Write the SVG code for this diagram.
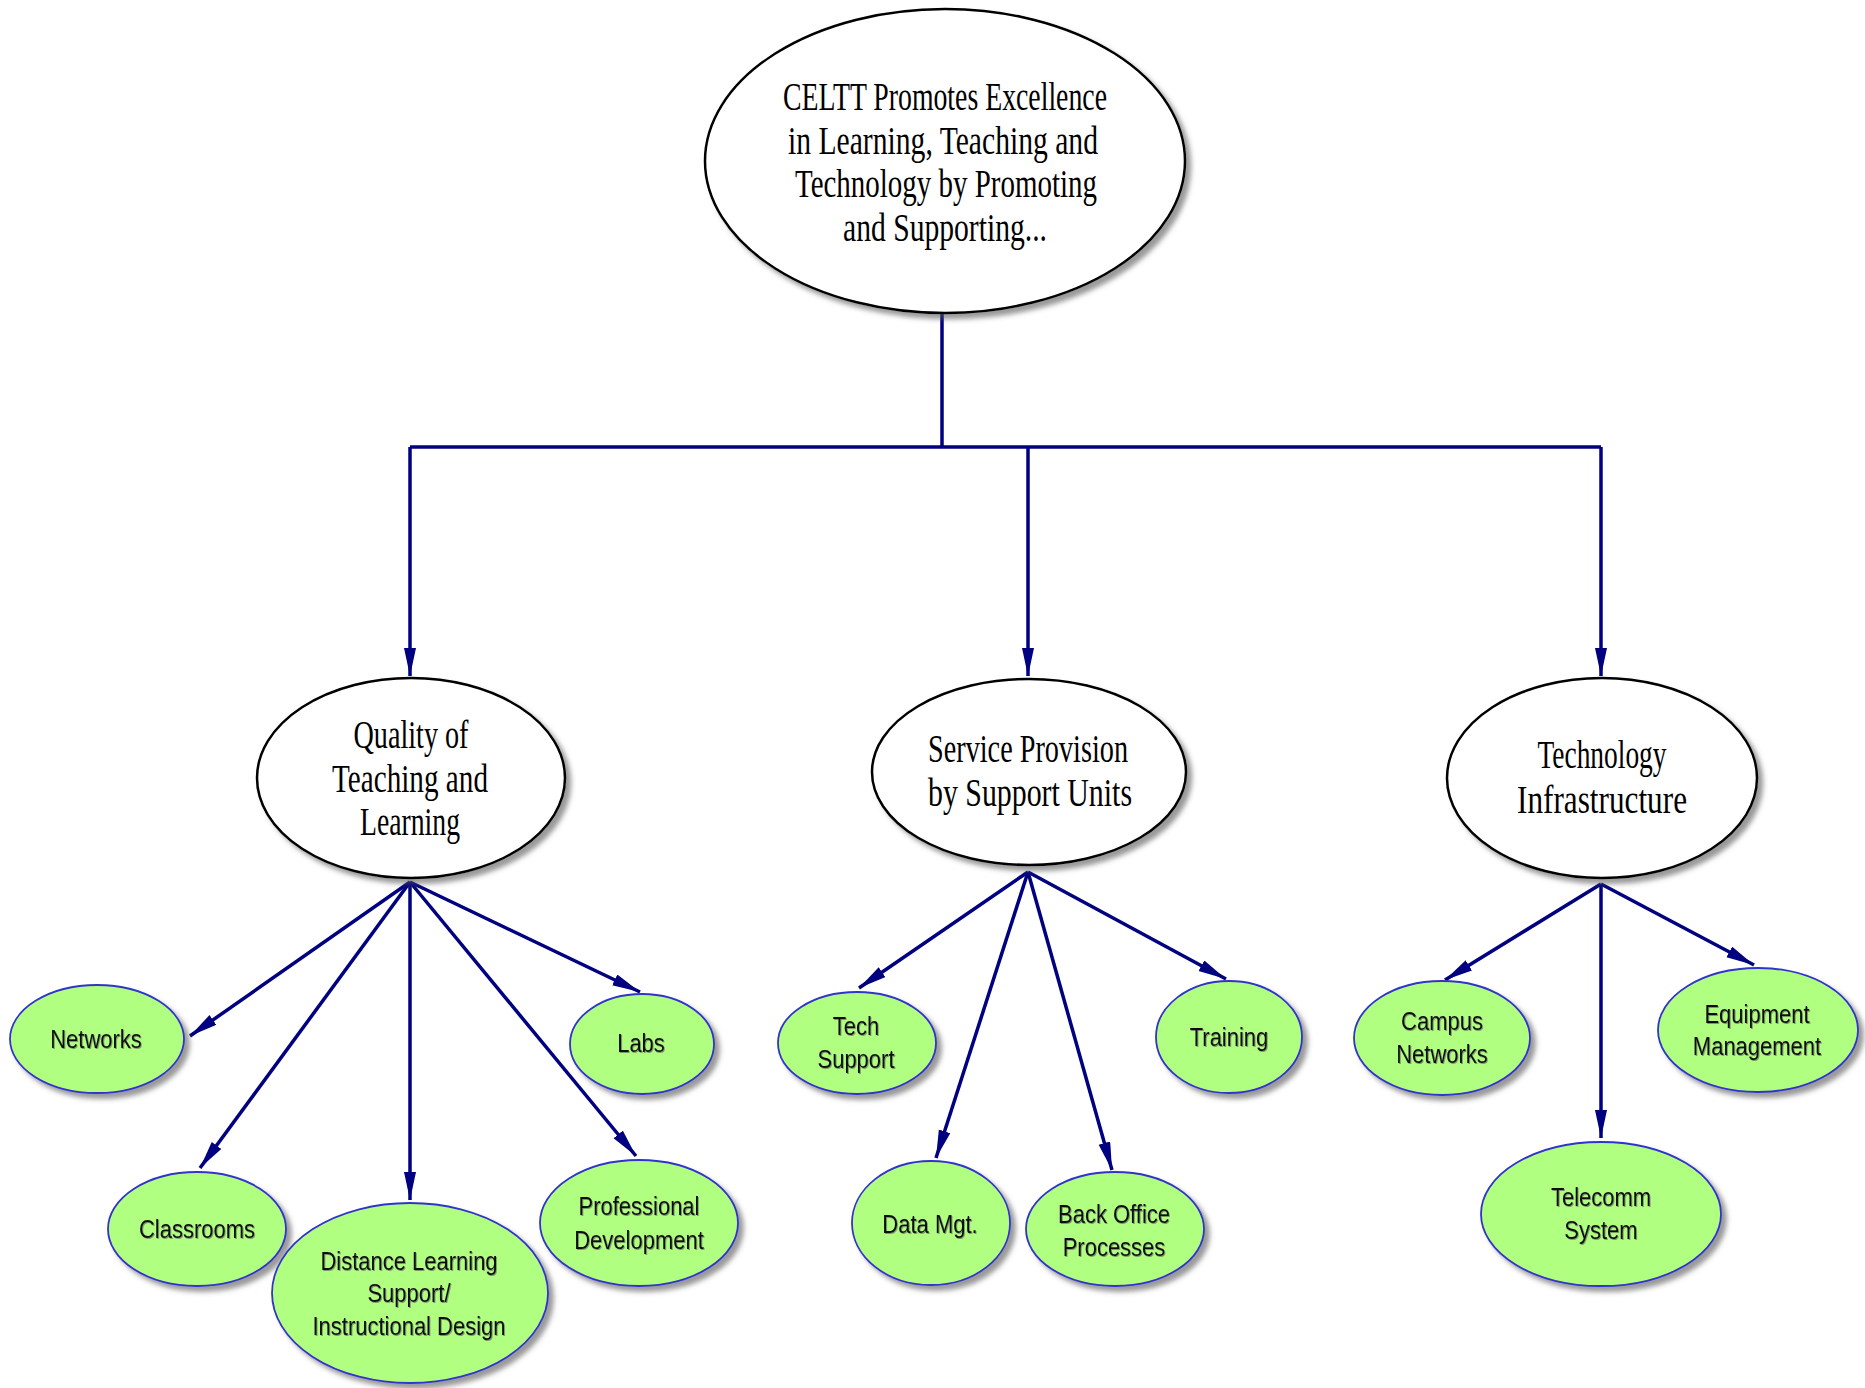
<svg xmlns="http://www.w3.org/2000/svg" width="1865" height="1388" viewBox="0 0 1865 1388">
<style>
.main{fill:#ffffff;stroke:#000000;stroke-width:2.5;filter:url(#sh)}
.leaf{fill:#b0ff80;stroke:#3333cc;stroke-width:1.8;filter:url(#sh)}
.serif{font-family:"Liberation Serif","Times New Roman",serif;font-size:39px;fill:#000000;text-anchor:middle}
.sans{font-family:"Liberation Sans",Arial,sans-serif;font-size:25px;fill:#111111;text-anchor:middle;filter:url(#ts)}
.conn{stroke:#000080;stroke-width:3.5;fill:none}
</style>
<defs>
<filter id="sh" x="-10%" y="-10%" width="125%" height="125%">
<feDropShadow dx="5" dy="5" stdDeviation="2.5" flood-color="#555555" flood-opacity="0.6"/>
</filter>
<filter id="ts" x="-5%" y="-20%" width="115%" height="150%">
<feDropShadow dx="1" dy="1" stdDeviation="0.6" flood-color="#555555" flood-opacity="0.6"/>
</filter>
<marker id="ah" markerUnits="userSpaceOnUse" markerWidth="30" markerHeight="14" refX="28" refY="6" orient="auto">
<path d="M0,0 L28,6 L0,12 z" fill="#000080"/>
</marker>
</defs>
<g id="connectors">
<polyline class="conn" points="942,313 942,447"/>
<polyline class="conn" points="410,447 1601,447"/>
<line class="conn" x1="410" y1="447" x2="410" y2="676" marker-end="url(#ah)"/>
<line class="conn" x1="1028" y1="447" x2="1028" y2="676" marker-end="url(#ah)"/>
<line class="conn" x1="1601" y1="447" x2="1601" y2="676" marker-end="url(#ah)"/>
<line class="conn" x1="410" y1="882" x2="190" y2="1036" marker-end="url(#ah)"/>
<line class="conn" x1="410" y1="882" x2="200" y2="1168" marker-end="url(#ah)"/>
<line class="conn" x1="410" y1="882" x2="410" y2="1200" marker-end="url(#ah)"/>
<line class="conn" x1="410" y1="882" x2="636" y2="1156" marker-end="url(#ah)"/>
<line class="conn" x1="410" y1="882" x2="640" y2="992" marker-end="url(#ah)"/>
<line class="conn" x1="1028" y1="872" x2="859" y2="988" marker-end="url(#ah)"/>
<line class="conn" x1="1028" y1="872" x2="936" y2="1158" marker-end="url(#ah)"/>
<line class="conn" x1="1028" y1="872" x2="1112" y2="1170" marker-end="url(#ah)"/>
<line class="conn" x1="1028" y1="872" x2="1226" y2="979" marker-end="url(#ah)"/>
<line class="conn" x1="1601" y1="884" x2="1445" y2="980" marker-end="url(#ah)"/>
<line class="conn" x1="1601" y1="884" x2="1601" y2="1138" marker-end="url(#ah)"/>
<line class="conn" x1="1601" y1="884" x2="1754" y2="965" marker-end="url(#ah)"/>
</g>
<g id="root">
<ellipse class="main" cx="945" cy="161" rx="240" ry="152"/>
<text class="serif" x="945" y="110" textLength="324" lengthAdjust="spacingAndGlyphs">CELTT Promotes Excellence</text>
<text class="serif" x="943" y="154" textLength="310" lengthAdjust="spacingAndGlyphs">in Learning, Teaching and</text>
<text class="serif" x="946" y="197" textLength="302" lengthAdjust="spacingAndGlyphs">Technology by Promoting</text>
<text class="serif" x="945" y="241" textLength="204" lengthAdjust="spacingAndGlyphs">and Supporting...</text>
</g>
<g id="quality">
<ellipse class="main" cx="411" cy="778" rx="154" ry="100"/>
<text class="serif" x="411" y="748" textLength="115" lengthAdjust="spacingAndGlyphs">Quality of</text>
<text class="serif" x="410" y="792" textLength="156" lengthAdjust="spacingAndGlyphs">Teaching and</text>
<text class="serif" x="410" y="835" textLength="100" lengthAdjust="spacingAndGlyphs">Learning</text>
</g>
<g id="service">
<ellipse class="main" cx="1029" cy="772" rx="157" ry="93"/>
<text class="serif" x="1028" y="762" textLength="200" lengthAdjust="spacingAndGlyphs">Service Provision</text>
<text class="serif" x="1030" y="806" textLength="204" lengthAdjust="spacingAndGlyphs">by Support Units</text>
</g>
<g id="techinfra">
<ellipse class="main" cx="1602" cy="778" rx="155" ry="100"/>
<text class="serif" x="1602" y="768" textLength="129" lengthAdjust="spacingAndGlyphs">Technology</text>
<text class="serif" x="1602" y="813" textLength="170" lengthAdjust="spacingAndGlyphs">Infrastructure</text>
</g>
<g id="networks">
<ellipse class="leaf" cx="97" cy="1039" rx="87" ry="54"/>
<text class="sans" transform="translate(96,1048) scale(0.88,1)">Networks</text>
</g>
<g id="labs">
<ellipse class="leaf" cx="642" cy="1044" rx="72" ry="50"/>
<text class="sans" transform="translate(641,1052) scale(0.88,1)">Labs</text>
</g>
<g id="classrooms">
<ellipse class="leaf" cx="197" cy="1229" rx="89" ry="57"/>
<text class="sans" transform="translate(197,1238) scale(0.88,1)">Classrooms</text>
</g>
<g id="distance">
<ellipse class="leaf" cx="410" cy="1293" rx="138" ry="90"/>
<text class="sans" transform="translate(409,1270) scale(0.88,1)">Distance Learning</text>
<text class="sans" transform="translate(409,1302) scale(0.88,1)">Support/</text>
<text class="sans" transform="translate(409,1335) scale(0.88,1)">Instructional Design</text>
</g>
<g id="professional">
<ellipse class="leaf" cx="639" cy="1223" rx="99" ry="63"/>
<text class="sans" transform="translate(639,1215) scale(0.88,1)">Professional</text>
<text class="sans" transform="translate(639,1249) scale(0.88,1)">Development</text>
</g>
<g id="techsupport">
<ellipse class="leaf" cx="857" cy="1043" rx="79" ry="51"/>
<text class="sans" transform="translate(856,1035) scale(0.88,1)">Tech</text>
<text class="sans" transform="translate(856,1068) scale(0.88,1)">Support</text>
</g>
<g id="datamgt">
<ellipse class="leaf" cx="931" cy="1223" rx="79" ry="62"/>
<text class="sans" transform="translate(930,1233) scale(0.88,1)">Data Mgt.</text>
</g>
<g id="backoffice">
<ellipse class="leaf" cx="1115" cy="1229" rx="89" ry="57"/>
<text class="sans" transform="translate(1114,1223) scale(0.88,1)">Back Office</text>
<text class="sans" transform="translate(1114,1256) scale(0.88,1)">Processes</text>
</g>
<g id="training">
<ellipse class="leaf" cx="1229" cy="1037" rx="73" ry="56"/>
<text class="sans" transform="translate(1229,1046) scale(0.88,1)">Training</text>
</g>
<g id="campus">
<ellipse class="leaf" cx="1442" cy="1038" rx="88" ry="57"/>
<text class="sans" transform="translate(1442,1030) scale(0.88,1)">Campus</text>
<text class="sans" transform="translate(1442,1063) scale(0.88,1)">Networks</text>
</g>
<g id="equipment">
<ellipse class="leaf" cx="1758" cy="1030" rx="100" ry="62"/>
<text class="sans" transform="translate(1757,1023) scale(0.88,1)">Equipment</text>
<text class="sans" transform="translate(1757,1055) scale(0.88,1)">Management</text>
</g>
<g id="telecomm">
<ellipse class="leaf" cx="1601" cy="1214" rx="120" ry="72"/>
<text class="sans" transform="translate(1601,1206) scale(0.88,1)">Telecomm</text>
<text class="sans" transform="translate(1601,1239) scale(0.88,1)">System</text>
</g>
</svg>
